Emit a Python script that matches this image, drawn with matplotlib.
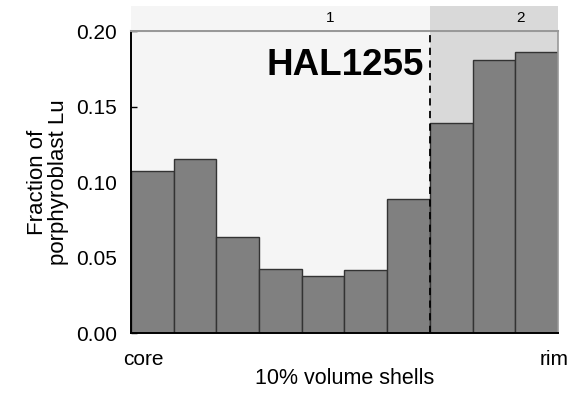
import numpy as np
import matplotlib.pyplot as plt

plt.rcParams['font.family'] = ['Liberation Sans', 'DejaVu Sans']

# Lu fraction per 10% volume shell, core -> rim
shells = np.arange(10)
lu_fraction = [0.107, 0.115, 0.0635, 0.0425, 0.0377, 0.0417, 0.0887, 0.139, 0.181, 0.186]
zone_edges = [0, 7, 10]
zone_labels = ["1", "2"]
zone_colors = ["#f5f5f5", "#d9d9d9"]
zone_label_x = [4.66, 9.13]
sample = "HAL1255"

fig = plt.figure(figsize=(5.75, 3.96), dpi=100)
ax = fig.add_axes([0.2278, 0.159, 0.7426, 0.7627])
strip = fig.add_axes([0.2278, 0.9242, 0.7426, 0.061])

for i in range(len(zone_labels)):
    ax.axvspan(zone_edges[i], zone_edges[i + 1], color=zone_colors[i], lw=0, zorder=0)
    strip.axvspan(zone_edges[i], zone_edges[i + 1], color=zone_colors[i], lw=0)
    strip.text(zone_label_x[i], 0.5, zone_labels[i], ha="center", va="center", fontsize=11)

ax.bar(shells + 0.5, lu_fraction, width=1.0, color="#808080", edgecolor="#333333",
       linewidth=1.0, zorder=2)
ax.axvline(zone_edges[1], color="black", linestyle=(0, (4, 3)), lw=1.3, zorder=3)

ax.text(6.85, 0.177, sample, ha="right", va="center", fontsize=26.5, fontweight="bold")

ax.set_xlim(0, 10)
ax.set_ylim(0, 0.2)
ax.set_yticks([0, 0.05, 0.1, 0.15, 0.2])
ax.set_yticklabels(["0.00", "0.05", "0.10", "0.15", "0.20"])
ax.tick_params(axis="y", direction="in", length=4, width=1, labelsize=15, pad=10)
ax.set_xticks([])
ax.spines["left"].set_linewidth(1.4)
ax.spines["bottom"].set_linewidth(1.4)
ax.spines["top"].set_color("#999999")
ax.spines["top"].set_linewidth(1.5)
ax.spines["right"].set_color("#999999")
ax.spines["right"].set_linewidth(1.2)

ax.set_ylabel("Fraction of\nporphyroblast Lu", fontsize=16, labelpad=5, linespacing=1.0)
ax.set_xlabel("10% volume shells", fontsize=15.5, labelpad=25)
ax.text(0.28, -0.011, "core", ha="center", va="top", fontsize=15)
ax.text(9.9, -0.011, "rim", ha="center", va="top", fontsize=15)

strip.set_xlim(0, 10)
strip.set_ylim(0, 1)
strip.axis("off")

fig.savefig("out.png", dpi=100)
